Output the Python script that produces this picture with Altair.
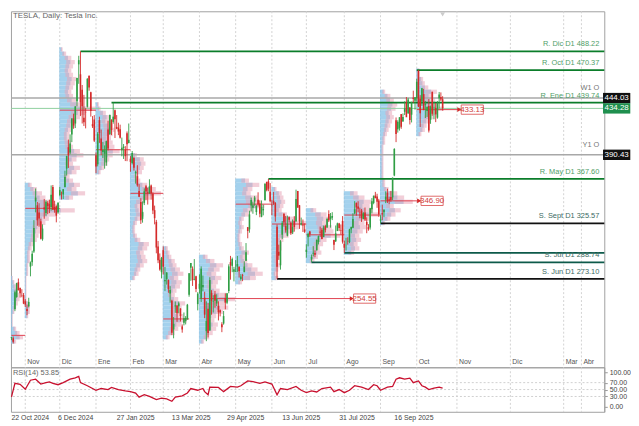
import altair as alt
import pandas as pd

title_text = "TESLA, Daily:  Tesla Inc."
rsi_text = "RSI(14) 53.85"

# ---------------- daily candles (22 Oct 2024 .. 22 Oct 2025) ----------------
opens = [
    217.3, 217.1, 244.7, 256.0, 270.0, 264.5, 258.0, 258.0,
    252.0, 244.6, 247.3, 284.7, 288.9, 299.1, 346.3, 342.7, 335.9, 327.7, 310.6, 340.7, 335.5, 345.0, 343.8, 341.1, 360.1, 341.0, 341.8, 336.1,
    352.4, 351.8, 353.0, 359.9, 377.4, 397.6, 392.7, 409.7, 424.8, 420.0, 441.1, 475.9, 466.5, 451.9, 425.5, 431.0, 435.9, 465.2, 449.5, 419.4, 423.8,
    390.1, 381.5, 423.2, 405.8, 393.0, 391.4, 383.2, 414.3, 409.9, 423.5, 421.5, 432.6, 416.8, 416.1, 414.5, 394.8, 396.9, 395.2, 410.8, 401.5,
    386.7, 382.6, 387.5, 373.0, 370.2, 356.2, 345.8, 329.9, 345.0, 360.6, 355.0, 354.0, 361.5, 353.4, 338.1, 327.0, 303.7, 291.2, 279.5,
    300.3, 270.9, 272.9, 272.1, 259.3, 252.5, 225.3, 247.2, 248.1, 247.3, 245.1, 228.2, 231.6, 233.4, 235.0, 258.1, 283.6, 282.7, 272.5, 275.6, 249.3,
    263.8, 254.6, 265.3, 255.4, 223.8, 245.0, 224.7, 260.0, 251.8, 258.4, 249.9, 247.6, 243.5, 230.3, 231.0, 254.9, 250.5, 261.7, 289.0, 285.5, 279.9,
    280.0, 284.9, 284.6, 273.1, 276.9, 279.6, 290.2, 322.0, 320.0, 342.5, 340.3, 346.2, 336.3, 347.9, 344.4, 331.9, 337.9, 347.4, 364.8, 365.3, 355.5,
    343.5, 346.6, 345.1, 322.5, 298.8, 286.0, 314.9, 334.4, 323.1, 314.0, 331.3, 326.1, 317.3, 328.0, 327.5, 356.2, 342.7, 324.6, 324.5, 319.9,
    298.5, 312.6, 318.0, 291.4, 297.0, 297.6, 300.1, 307.9, 317.7, 319.7, 312.8, 323.2, 321.7, 334.4, 329.7, 330.9, 310.0, 308.7, 318.5, 325.6, 319.4, 327.9,
    306.2, 309.1, 309.0, 307.9, 319.8, 321.4, 335.0, 345.0, 341.5, 335.8, 337.7, 329.6, 335.8, 327.0, 322.1, 321.7, 338.9, 344.9, 351.9, 350.9, 347.2,
    328.2, 335.2, 336.2, 348.0, 354.6, 348.4, 350.6, 350.2, 370.9, 423.1, 414.5, 415.8, 428.9, 421.8, 431.1, 439.9, 429.8, 435.2, 428.3, 444.4, 441.5,
    443.8, 470.0, 443.3, 440.8, 447.8, 437.6, 431.8, 436.5, 423.5, 450.0, 434.8, 434.7, 425.5, 443.9, 445.0, 443.0,
]
highs = [
    218.2, 218.7, 262.1, 269.5, 273.5, 265.0, 263.4, 259.8,
    254.0, 248.9, 255.3, 289.6, 299.8, 328.7, 358.6, 345.8, 344.6, 330.0, 324.7, 348.6, 347.4, 346.6, 348.0, 361.5, 361.9, 347.0, 342.6, 345.5,
    360.0, 355.7, 358.1, 375.4, 389.5, 404.8, 409.7, 424.9, 429.3, 436.3, 463.2, 484.0, 488.2, 456.4, 447.1, 434.5, 462.8, 465.3, 450.0, 427.0, 427.9,
    392.7, 411.9, 426.4, 414.3, 402.5, 399.3, 403.8, 422.6, 428.2, 424.0, 439.7, 433.2, 428.0, 420.7, 418.9, 406.7, 400.6, 398.6, 412.5, 420.0,
    389.2, 394.0, 388.4, 375.4, 380.6, 362.7, 349.4, 346.4, 358.7, 362.0, 359.1, 367.3, 362.3, 355.0, 342.4, 328.9, 309.0, 297.2, 293.9,
    303.9, 284.4, 279.6, 272.7, 266.3, 253.4, 237.1, 251.8, 248.3, 251.6, 245.4, 230.1, 241.4, 238.0, 249.5, 278.6, 288.2, 284.9, 291.9, 276.1, 260.6,
    277.5, 285.0, 276.3, 261.0, 252.0, 250.4, 274.7, 262.5, 257.7, 261.8, 258.6, 252.0, 244.3, 232.2, 242.8, 259.5, 259.5, 286.9, 294.9, 293.3, 284.5,
    290.9, 294.8, 284.9, 277.7, 277.9, 289.8, 307.0, 322.2, 337.6, 350.0, 346.1, 351.6, 343.0, 355.0, 347.4, 347.3, 343.2, 363.8, 365.0, 367.6, 363.7,
    348.0, 355.4, 345.6, 324.6, 305.5, 309.8, 327.8, 335.5, 332.6, 333.0, 332.1, 327.3, 329.3, 332.4, 357.5, 356.3, 343.0, 331.1, 329.3, 325.6,
    305.9, 316.8, 318.5, 296.2, 304.1, 300.2, 310.5, 314.1, 322.6, 321.2, 323.5, 324.3, 330.9, 338.0, 335.4, 336.2, 310.2, 323.6, 326.3, 326.1, 324.6, 332.5,
    309.3, 312.1, 312.5, 320.5, 322.4, 335.2, 346.6, 345.3, 346.5, 340.5, 339.3, 336.3, 340.6, 331.4, 324.9, 340.3, 349.5, 351.9, 355.4, 353.6, 348.8,
    333.3, 343.3, 338.9, 355.9, 358.4, 350.8, 356.3, 369.0, 396.7, 425.7, 423.1, 425.9, 428.9, 429.5, 441.0, 445.0, 444.2, 435.4, 440.5, 451.0, 445.0,
    462.3, 470.4, 446.8, 453.6, 452.7, 441.3, 436.4, 443.1, 436.9, 450.0, 440.5, 439.4, 441.2, 449.8, 449.4, 445.8,
]
lows = [
    215.3, 212.1, 242.7, 255.3, 262.2, 255.5, 255.8, 249.3,
    246.6, 238.9, 246.2, 275.6, 285.5, 297.7, 336.0, 323.3, 322.5, 310.4, 309.2, 330.0, 332.8, 334.3, 335.3, 337.7, 338.2, 335.7, 326.6, 334.7,
    351.2, 348.2, 348.6, 359.5, 370.8, 378.0, 390.9, 402.4, 415.0, 415.7, 436.2, 457.5, 427.0, 420.0, 417.6, 415.4, 435.1, 451.0, 426.5, 415.8, 402.5,
    373.0, 379.5, 401.7, 390.0, 387.4, 377.3, 380.1, 394.5, 409.3, 409.1, 419.8, 406.3, 414.6, 409.0, 405.8, 389.0, 386.5, 384.5, 384.4, 401.3,
    374.4, 381.4, 375.5, 363.2, 360.3, 350.5, 325.1, 326.3, 342.9, 347.5, 343.4, 353.7, 348.0, 334.4, 324.7, 297.3, 288.0, 280.9, 273.6,
    277.3, 261.8, 267.7, 260.0, 250.7, 220.0, 217.0, 241.1, 232.6, 240.7, 232.8, 222.3, 229.2, 230.1, 234.6, 256.3, 271.3, 266.5, 271.8, 260.6, 243.4,
    259.3, 251.3, 261.5, 236.0, 214.3, 217.8, 223.9, 239.3, 241.4, 245.9, 247.5, 233.9, 237.7, 222.8, 229.9, 244.4, 249.2, 259.6, 272.4, 279.5, 270.8,
    279.8, 279.8, 274.4, 271.4, 271.0, 279.4, 290.0, 311.5, 316.8, 337.0, 334.7, 342.3, 333.4, 341.6, 331.4, 331.4, 333.2, 347.3, 355.9, 356.0, 345.4,
    333.3, 343.0, 327.3, 273.2, 291.1, 281.9, 310.7, 322.5, 316.9, 313.3, 326.4, 314.7, 315.5, 317.8, 327.5, 340.4, 320.4, 323.6, 317.5, 316.6,
    293.2, 303.8, 312.8, 288.8, 294.4, 293.6, 300.0, 305.7, 312.7, 310.5, 312.6, 317.1, 321.4, 326.9, 321.6, 328.7, 300.4, 308.0, 318.3, 318.3, 315.0, 306.5,
    297.8, 299.9, 305.5, 306.9, 316.2, 321.0, 334.2, 332.9, 336.0, 330.4, 327.0, 329.6, 327.9, 316.3, 318.7, 319.7, 335.0, 343.7, 349.2, 340.3, 331.7,
    325.6, 328.5, 331.5, 344.7, 344.8, 343.8, 346.1, 347.6, 370.2, 402.4, 411.4, 413.3, 415.0, 421.7, 428.0, 429.1, 429.0, 419.1, 421.0, 439.5, 433.1,
    440.8, 435.6, 416.6, 436.7, 432.5, 425.2, 426.2, 411.5, 419.7, 427.3, 424.0, 421.3, 424.5, 434.2, 441.2, 432.2,
]
closes = [
    218.0, 213.7, 260.5, 269.2, 262.5, 259.5, 257.6, 249.9,
    249.0, 242.8, 251.4, 288.5, 296.9, 321.2, 350.0, 328.5, 330.2, 311.2, 320.7, 338.7, 346.0, 342.0, 339.6, 352.6, 338.6, 338.2, 332.9, 345.2,
    357.1, 351.4, 357.9, 369.5, 389.2, 389.8, 401.0, 424.8, 418.1, 436.2, 463.0, 479.9, 440.1, 436.2, 421.1, 430.6, 462.3, 454.1, 431.7, 417.4, 403.8,
    379.3, 410.4, 411.1, 394.4, 394.9, 394.7, 403.3, 396.4, 428.2, 413.8, 426.5, 424.1, 415.1, 412.4, 406.6, 397.2, 398.1, 389.1, 400.3, 404.6,
    383.7, 392.2, 378.2, 374.3, 361.6, 350.7, 328.5, 336.5, 355.9, 355.8, 354.1, 360.6, 354.4, 337.8, 330.5, 302.8, 290.8, 282.0, 293.0,
    284.7, 272.0, 279.1, 263.5, 262.7, 222.2, 230.6, 248.1, 240.7, 250.0, 238.0, 225.3, 235.9, 236.3, 248.7, 278.4, 288.1, 272.1, 273.1, 263.6, 259.2,
    268.5, 282.8, 267.3, 239.4, 233.3, 221.9, 272.2, 252.4, 252.3, 252.4, 254.1, 241.6, 241.4, 227.5, 238.0, 250.7, 259.5, 285.0, 285.9, 292.0, 282.2,
    280.5, 287.2, 280.3, 275.4, 276.2, 284.8, 298.3, 318.4, 334.1, 347.7, 342.8, 350.0, 342.1, 343.8, 334.6, 341.0, 339.3, 362.9, 356.9, 358.4, 346.5,
    342.7, 344.3, 332.1, 284.7, 295.1, 308.6, 326.1, 326.4, 319.1, 325.3, 329.1, 316.4, 322.1, 322.2, 348.7, 340.5, 327.6, 325.8, 323.6, 317.7,
    300.7, 315.7, 315.4, 293.9, 297.8, 295.9, 309.9, 313.5, 316.9, 310.8, 321.7, 319.4, 329.7, 328.5, 332.1, 332.6, 305.3, 316.1, 325.6, 321.2, 319.0, 308.3,
    302.6, 309.3, 308.7, 319.9, 322.3, 329.7, 339.0, 340.8, 339.4, 335.6, 330.6, 335.2, 329.3, 323.9, 320.1, 340.0, 346.6, 351.7, 349.6, 346.0, 333.9,
    329.4, 334.1, 338.5, 350.8, 346.4, 347.0, 347.8, 368.8, 395.9, 410.0, 421.6, 425.9, 416.9, 426.1, 434.2, 425.9, 442.8, 423.4, 440.4, 443.2, 444.7,
    459.5, 436.0, 429.8, 453.3, 433.1, 438.7, 435.5, 413.5, 435.9, 429.2, 435.2, 428.8, 439.3, 447.4, 442.6, 434.3,
]

# ---------------- time axis labels ----------------
month_names = ["Nov", "Dic", "Ene", "Feb", "Mar", "Abr", "May", "Jun", "Jul", "Ago", "Sep", "Oct", "Nov", "Dic", "Mar", "Abr"]
month_bars = [8, 28, 49, 69, 88, 109, 130, 151, 171, 193, 214, 235, 258.3, 289.3, 320.2, 330.5]
date_names = ["22 Oct 2024", "6 Dec 2024", "27 Jan 2025", "13 Mar 2025", "29 Apr 2025", "13 Jun 2025", "31 Jul 2025", "16 Sep 2025"]
date_bars = [0, 27, 61, 93, 125, 157, 190, 222]

# ---------------- monthly volume profiles (bin = 4 price units) ----------------
profile_starts = [0, 8, 28, 49, 69, 88, 109, 130, 151, 171, 193, 214, 235]
profile_lows = [212, 236, 348, 372, 272, 216, 212, 268, 272, 288, 296, 324, 408]
prof_oct24 = [3, 7, 5, 3, 1, 1, 1, 2, 3, 4, 5, 5, 4, 3, 2, 1]
prof_nov24 = [2, 3, 3, 2, 1, 1, 1, 1, 1, 1, 2, 2, 2, 3, 3, 3, 4, 5, 7, 8, 9, 10, 12, 14, 18, 29, 20, 16, 12, 10, 7, 4]
prof_dec24 = [8, 15, 10, 12, 8, 6, 10, 12, 8, 10, 14, 12, 8, 7, 6, 6, 7, 9, 10, 12, 15, 21, 14, 10, 8, 7, 8, 9, 10, 8, 7, 8, 9, 7, 4, 2]
prof_jan25 = [3, 5, 7, 8, 10, 14, 11, 10, 9, 10, 11, 10, 8, 9, 6, 3, 2]
prof_feb25 = [3, 5, 6, 8, 10, 9, 8, 10, 11, 6, 4, 3, 3, 4, 6, 8, 7, 6, 8, 12, 18, 15, 10, 6, 5, 7, 8, 9, 8, 4]
prof_mar25 = [4, 7, 9, 11, 14, 12, 10, 11, 13, 9, 7, 8, 10, 11, 9, 12, 10, 8, 7, 5, 4, 3]
prof_apr25 = [3, 6, 8, 10, 11, 9, 10, 14, 17, 15, 21, 16, 12, 10, 11, 13, 10, 12, 14, 9, 5]
prof_may25 = [4, 12, 16, 13, 10, 7, 6, 8, 5, 4, 3, 3, 4, 5, 4, 5, 8, 10, 17, 14, 13, 9, 10, 14, 8]
prof_jun25 = [4, 3, 4, 5, 4, 4, 5, 6, 6, 7, 10, 13, 16, 20, 15, 9, 6, 7, 8, 7, 6, 3]
prof_jul25 = [5, 7, 9, 8, 10, 12, 20, 16, 15, 13, 14, 12, 6]
prof_aug25 = [6, 9, 8, 10, 9, 11, 13, 12, 15, 20, 17, 15, 16, 12, 8]
prof_sep25 = [3, 6, 9, 12, 8, 19, 14, 10, 5, 3, 3, 2, 2, 2, 2, 2, 2, 2, 2, 3, 3, 4, 5, 6, 7, 8, 7, 9, 10, 8, 6, 3]
prof_oct25 = [3, 5, 6, 8, 10, 12, 16, 13, 11, 10, 12, 7, 5, 4, 2, 2]
profile_widths = [prof_oct24, prof_nov24, prof_dec24, prof_jan25, prof_feb25, prof_mar25, prof_apr25,
                  prof_may25, prof_jun25, prof_jul25, prof_aug25, prof_sep25, prof_oct25]

# point of control lines
poc_start = [0, 8, 28, 49, 69, 88, 109, 130, 151, 171, 193, 214, 235]
poc_end = [8, 28, 49, 69, 88, 103, 198.5, 151, 171, 193, 214, 237.6, 260.9]
poc_price = [219.8, 339.8, 432.6, 395.2, 354.0, 235.3, 254.55, 343.8, 325.0, 314.8, 333.5, 346.9, 433.13]
naked_end = [198.5, 237.6, 260.9]
naked_price = [254.55, 346.90, 433.13]

# support / resistance levels
level_names = ["R. Dic D1 488.22", "R. Oct D1 470.37", "R. Ene D1 439.74", "R. May D1 367.60",
               "S. Sept D1 325.57", "", "S. Jul D1 288.74", "S. Jun D1 273.10"]
level_prices = [488.22, 470.37, 439.74, 367.60, 325.57, 297.82, 288.74, 273.10]
level_starts = [40, 235, 58, 149, 214, 193, 174, 154]
level_colors = ["#0b7d2a", "#0b7d2a", "#0b7d2a", "#0b7d2a", "#111111", "#0d5a4a", "#0d5a4a", "#111111"]
level_text_colors = ["#4f9e68", "#4f9e68", "#4f9e68", "#4f9e68", "#3d6b63", "#3d6b63", "#3d6b63", "#3d6b63"]

# open reference lines
ref_names = ["W1 O", "Y1 O"]
ref_prices = [444.03, 390.43]
bid_price = 434.28
box_prices = [444.03, 434.28, 390.43]
box_colors = ["#111111", "#1f8f4e", "#111111"]

price_ticks = [508.56, 479.49, 450.42, 421.35, 363.21, 334.14, 305.07, 276.00, 246.93, 217.86]
rsi_ticks = [0, 30, 50, 70, 100]
rsi_levels = [30, 50, 70]

# RSI(14)
rsi_bars = [0, 2, 5, 8, 11, 14, 17, 20, 22, 24, 27, 30, 34, 37, 39, 40, 44, 49, 52, 56, 58, 62, 66, 69, 72, 74, 77, 80, 84, 87,
            90, 93, 95, 99, 102, 104, 108, 111, 112, 114, 115, 120, 123, 127, 131, 133, 137, 140, 144, 147, 151, 154, 156, 160,
            165, 168, 171, 174, 177, 180, 185, 187, 190, 193, 196, 199, 203, 207, 210, 212, 214, 218, 221, 223, 225, 228, 231,
            233, 236, 238, 240, 242, 245, 248, 250]
rsi_vals = [29, 68, 65, 51, 77, 80, 66, 70, 72, 68, 64, 70, 80, 84, 88, 70, 61, 48, 53, 50, 56, 50, 46, 44, 40, 28, 35, 30, 21, 25,
            23, 16, 28, 32, 40, 53, 48, 53, 44, 35, 57, 56, 44, 59, 57, 61, 75, 73, 68, 72, 66, 35, 53, 50,
            59, 48, 41, 46, 43, 53, 57, 44, 50, 41, 48, 61, 57, 50, 64, 61, 48, 57, 59, 80, 84, 80, 83,
            70, 75, 61, 57, 50, 54, 57, 53.85]

# ---------------- layout ----------------
W = 600
H_MAIN = 360
H_RSI = 45
X_DOM = [-0.3, 343.76]
Y_DOM = [189.6, 526.04]
R_DOM = [-14.3, 114.3]
FONT = "Liberation Sans"
GREEN = "#2f9e44"
RED = "#d42a2a"
LABEL_X = 595
BOX_X = 612.5

xs = alt.Scale(domain=X_DOM, nice=False, zero=False)
ys = alt.Scale(domain=Y_DOM, nice=False, zero=False)
rs = alt.Scale(domain=R_DOM, nice=False, zero=False)

candles = pd.DataFrame({"bar": list(range(len(closes))), "open": opens, "high": highs, "low": lows, "close": closes})
candles["dir"] = ["up" if c >= o else "down" for o, c in zip(opens, closes)]

rows = []
for start, p0, ws in zip(profile_starts, profile_lows, profile_widths):
    for i, w in enumerate(ws):
        s = start - 0.3
        rows.append({"x0": s, "xb": s + 0.72 * w, "xp": s + 0.45 * w, "x1": s + w, "p0": p0 + 4 * i, "p1": p0 + 4 * i + 4})
prof = pd.DataFrame(rows)

months = pd.DataFrame({"bar": month_bars, "name": month_names})
dates = pd.DataFrame({"bar": date_bars, "name": date_names})
pocs = pd.DataFrame({"x0": poc_start, "x1": poc_end, "p": poc_price})
naked = pd.DataFrame({"xe": naked_end, "p": naked_price,
                      "xc": [e + 6.3 for e in naked_end], "xa": [e - 1.2 for e in naked_end],
                      "label": [f"{v:.2f}" for v in naked_price]})
levels = pd.DataFrame({"x0": level_starts, "x1": [X_DOM[1]] * len(level_starts), "p": level_prices,
                       "name": level_names, "col": level_colors, "tcol": level_text_colors})
refs = pd.DataFrame({"p": ref_prices, "name": ref_names})
boxes = pd.DataFrame({"p": box_prices, "col": box_colors, "label": [f"{v:.2f}" for v in box_prices]})
rsi_df = pd.DataFrame({"bar": rsi_bars, "rsi": rsi_vals})

xe = lambda f: alt.X(f, type="quantitative", scale=xs, axis=None)
ye = lambda f: alt.Y(f, type="quantitative", scale=ys, axis=None)

axis_style = dict(orient="right", format=".2f", title=None, labelFont=FONT, labelFontSize=8, labelColor="#444",
                  tickSize=3, tickColor="#999", domainColor="#a0a0a0", labelPadding=2, grid=False, labelOverlap=False)
rsi_axis_style = dict(axis_style, labelFontSize=7)

grid = alt.Chart(months).mark_rule(color="#d2d2d2", strokeDash=[2, 2], strokeWidth=1).encode(x=xe("bar"))

blue = alt.Chart(prof).mark_rect(color="#8cc6e8", opacity=0.8).encode(x=xe("x0"), x2="xb", y=ye("p0"), y2="p1")
pink = alt.Chart(prof).mark_rect(color="#e8a6b8", opacity=0.55).encode(x=xe("xp"), x2="x1", y=ye("p0"), y2="p1")

poc_rules = alt.Chart(pocs).mark_rule(color="#e0414f", strokeWidth=1).encode(x=xe("x0"), x2="x1", y=ye("p"))
arrows = alt.Chart(naked).mark_point(shape="triangle-right", filled=True, color="#d42a2a", size=22, opacity=1).encode(
    x=xe("xa"), y=ye("p"))
nbox = alt.Chart(naked).mark_point(shape="M-1,-0.42L1,-0.42L1,0.42L-1,0.42Z", size=500, filled=True, fill="white",
                                   stroke="#e06a6a", strokeWidth=1, opacity=1).encode(x=xe("xc"), y=ye("p"))
ntext = alt.Chart(naked).mark_text(font=FONT, fontSize=8, color="#d04040").encode(x=xe("xc"), y=ye("p"), text="label:N")

ref_lines = alt.Chart(refs).mark_rule(color="#a8a8a8", strokeWidth=1.5).encode(y=ye("p"))
ref_text = alt.Chart(refs).mark_text(font=FONT, fontSize=7.5, color="#777", align="right", dy=-10).encode(
    x=alt.value(LABEL_X), y=ye("p"), text="name:N")
bid_line = alt.Chart(pd.DataFrame({"p": [bid_price]})).mark_rule(color="#8fcf9f", strokeWidth=1).encode(y=ye("p"))

level_lines = alt.Chart(levels).mark_rule(strokeWidth=1.8).encode(
    x=xe("x0"), x2="x1", y=ye("p"), color=alt.Color("col:N", scale=None))
level_text = alt.Chart(levels).mark_text(font=FONT, fontSize=7.5, align="right", dy=-7).encode(
    x=alt.value(LABEL_X), y=ye("p"), text="name:N", color=alt.Color("tcol:N", scale=None))

cscale = alt.Scale(domain=["up", "down"], range=[GREEN, RED])
wicks = alt.Chart(candles).mark_rule(strokeWidth=0.9).encode(
    x=xe("bar"),
    y=alt.Y("low:Q", scale=ys, axis=alt.Axis(values=price_ticks, **axis_style)),
    y2="high:Q", color=alt.Color("dir:N", scale=cscale, legend=None))
bodies = alt.Chart(candles).mark_rule(strokeWidth=1.6).encode(
    x=xe("bar"), y=ye("open"), y2="close:Q", color=alt.Color("dir:N", scale=cscale, legend=None))

abox = alt.Chart(boxes).mark_point(shape="M-1,-0.38L1,-0.38L1,0.38L-1,0.38Z", size=760, filled=True, opacity=1,
                                   strokeWidth=0).encode(x=alt.value(BOX_X), y=ye("p"),
                                                         color=alt.Color("col:N", scale=None))
atext = alt.Chart(boxes).mark_text(font=FONT, fontSize=8, color="white").encode(
    x=alt.value(BOX_X), y=ye("p"), text="label:N")

month_text = alt.Chart(months).mark_text(font=FONT, fontSize=7, color="#555", align="left", dx=2).encode(
    x=xe("bar"), y=alt.value(355), text="name:N")
title = alt.Chart(pd.DataFrame({"t": [title_text]})).mark_text(
    font=FONT, fontSize=8, color="#666", align="left").encode(x=alt.value(2), y=alt.value(5), text="t:N")
shift_mark = alt.Chart(pd.DataFrame({"bar": [250]})).mark_point(
    shape="triangle-down", filled=True, color="#cccccc", size=25, opacity=1).encode(x=xe("bar"), y=alt.value(3))

main = alt.layer(grid, blue, pink, poc_rules, ref_lines, bid_line, level_lines, wicks, bodies, arrows, nbox, ntext,
                 ref_text, level_text, abox, atext, month_text, title, shift_mark).properties(width=W, height=H_MAIN)

# ---------------- RSI panel ----------------
rgrid = alt.Chart(months).mark_rule(color="#d2d2d2", strokeDash=[2, 2], strokeWidth=1).encode(x=xe("bar"))
rlev = alt.Chart(pd.DataFrame({"v": rsi_levels})).mark_rule(color="#cfcfcf", strokeDash=[2, 2], strokeWidth=1).encode(
    y=alt.Y("v:Q", scale=rs, axis=alt.Axis(values=rsi_ticks, **rsi_axis_style)))
rline = alt.Chart(rsi_df).mark_line(color="#c8102e", strokeWidth=1.3).encode(
    x=xe("bar"), y=alt.Y("rsi:Q", scale=rs, axis=alt.Axis(values=rsi_ticks, **rsi_axis_style)))
rlabel = alt.Chart(pd.DataFrame({"t": [rsi_text]})).mark_text(
    font=FONT, fontSize=7.5, color="#666", align="left").encode(x=alt.value(2), y=alt.value(6), text="t:N")
dtext = alt.Chart(dates).mark_text(font=FONT, fontSize=7, color="#444", align="left").encode(
    x=xe("bar"), y=alt.value(51), text="name:N")

rsi = alt.layer(rgrid, rlev, rline, rlabel, dtext).properties(width=W, height=H_RSI)

chart = alt.vconcat(main, rsi, spacing=0, bounds="flush").properties(
    padding={"left": 0, "top": 0, "right": 0, "bottom": 0},
    background="white",
).configure_view(stroke="#a0a0a0", strokeWidth=1)

chart.save("out.html", embed_options={"renderer": "svg", "actions": False})
